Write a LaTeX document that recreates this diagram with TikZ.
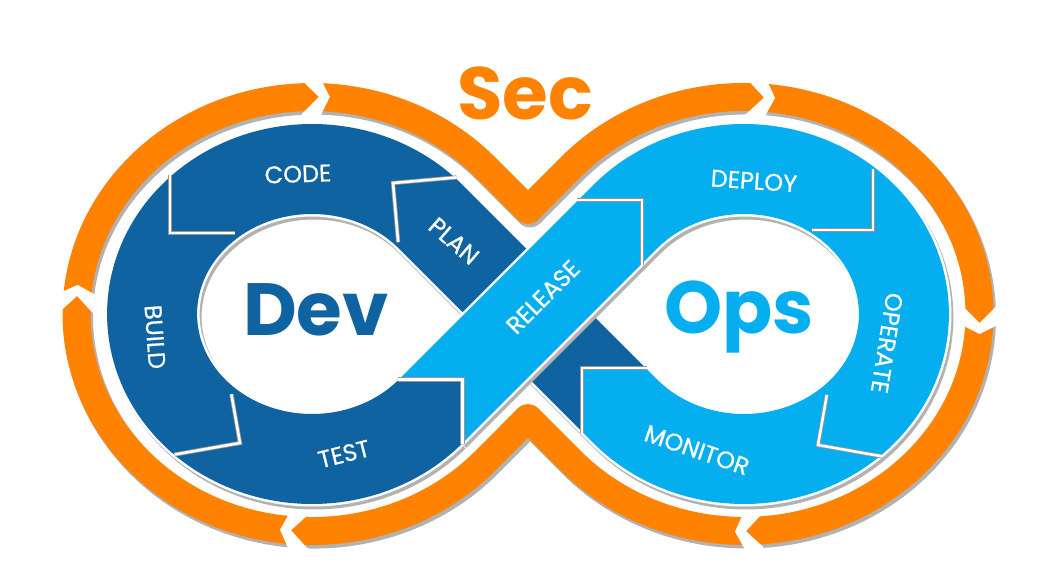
\documentclass[tikz,border=0pt]{standalone}
\usepackage{fontspec}
\setmainfont{Poppins}
\newfontfamily\labfont{Poppins}[FakeBold=0.6]
\definecolor{devblue}{RGB}{14,99,160}
\definecolor{opsblue}{RGB}{5,175,239}
\definecolor{secorange}{RGB}{255,130,0}
\definecolor{shadowgray}{RGB}{178,178,178}
\definecolor{seamgray}{RGB}{150,150,150}

% centre line of the blue band (left loop, crossing, right loop)
\def\darkband{(614,400) -- (528,314) -- (430.63,216.65) arc[start angle=-42.18,end angle=-317.82,x radius=160,y radius=145]}
\def\lightband{(430.63,411.35) -- (528,314) -- (625.37,216.65) arc[start angle=222.18,end angle=497.82,x radius=160,y radius=145] -- (614,400)}
% centre line of the orange security loop
\def\secloop{(485,166.9) -- (528,210) -- (571,166.9) arc[start angle=222.66,end angle=497.34,x radius=235.4,y radius=217] -- (528,418) -- (485,461.1) arc[start angle=42.66,end angle=317.34,x radius=235.4,y radius=217] -- cycle}

\tikzset{
  bandshadow/.style={draw=shadowgray, line width=95pt, shift={(2,3)}},
  bandedge/.style={draw=white, line width=95pt},
  seam/.style={draw=white, line width=2.6pt, line join=miter},
  seamshadow/.style={draw=seamgray, line width=4.2pt, line join=miter},
  gapcut/.style={fill=white},
  steplabel/.style={text=white, font=\labfont\fontsize{24}{24}\selectfont, inner sep=0pt},
  bigword/.style={font=\fontsize{74}{74}\selectfont\bfseries, anchor=base, inner sep=0pt},
}

% chevron seam between two stages: apex x, apex y, rotation, reach of each arm
\newcommand{\stageseam}[5]{%
  \begin{scope}[shift={(#1,#2)},rotate=#3]
    \draw[seamshadow] (-#4,#4) -- (0,0) -- (-#5,-#5);
    \draw[seam] (-#4,#4) -- (0,0) -- (-#5,-#5);
  \end{scope}}
% arrow break in the orange loop
\newcommand{\secgap}[3]{%
  \begin{scope}[shift={(#1,#2)},rotate=#3]
    \fill[gapcut] (-11,20) -- (9,0) -- (-11,-20) -- (10,-20) -- (20,0) -- (10,20) -- cycle;
  \end{scope}}

\begin{document}
\begin{tikzpicture}[x=1pt,y=-1pt]
\useasboundingbox (0,0) rectangle (1042,572);
\fill[white] (0,0) rectangle (1042,572);

\coordinate (M) at (528,314);

% ---- dark (Dev) band: plan, code, build, test
\draw[bandshadow] \darkband;
\draw[bandedge] \darkband;
\draw[devblue, line width=90pt] \darkband;

% ---- light (Ops) band: release, deploy, operate, monitor
\draw[bandshadow] \lightband;
\draw[bandedge] \lightband;
\draw[opsblue, line width=90pt] \lightband;
% monitor arrow tip into plan
\fill[opsblue] (647.23,369.59) -- (582.18,368.18) -- (583.59,433.23) -- cycle;
% test arrow tip into release
\fill[devblue] (461.04,444.58) -- (462.45,379.53) -- (397.40,380.94) -- cycle;

% ---- seams between stages
\stageseam{393}{183}{140}{45}{42}
\stageseam{170}{233}{-135}{41}{46}
\stageseam{240}{443}{-35}{47}{35}
\stageseam{462.45}{379.53}{45}{45.5}{45.5}
\stageseam{641.8}{200.2}{45}{45.5}{45.5}
\stageseam{873}{230}{-45}{43}{43}
\stageseam{818}{445}{-145}{36}{46}
\stageseam{582.18}{368.18}{135}{45.5}{45.5}

% ---- stage labels
\node[steplabel, rotate=2]   (code)    at (298,174) {CODE};
\node[steplabel, rotate=-41] (plan)    at (454,241) {PLAN};
\node[steplabel, rotate=-86] (build)   at (155,337) {BUILD};
\node[steplabel, rotate=14]  (test)    at (344,454) {TEST};
\node[steplabel, rotate=45]  (release) at (543,297) {RELEASE};
\node[steplabel, rotate=-4]  (deploy)  at (754,181) {DEPLOY};
\node[steplabel, rotate=-99] (operate) at (887,343) {OPERATE};
\node[steplabel, rotate=-19] (monitor) at (697,450) {MONITOR};

% ---- Dev / Ops
\node[bigword, text=devblue] (dev) at (316,335) {Dev};
\node[bigword, text=opsblue] (ops) at (739,333) {Ops};

% ---- orange security loop
\draw[shadowgray, line width=29pt, line join=round, shift={(2,3)}] \secloop;
\draw[secorange, line width=28pt, line join=round] \secloop;
\secgap{309.8}{97.0}{0.46}
\secgap{755.0}{97.2}{-2.4}
\secgap{979.5}{314}{-90}
\secgap{755.0}{530.8}{-177.6}
\secgap{300.0}{530.7}{-182.7}
\secgap{76.7}{304.9}{87.4}

% ---- Sec
\node[bigword, text=secorange] (sec) at (525,120) {Sec};
\end{tikzpicture}
\end{document}
